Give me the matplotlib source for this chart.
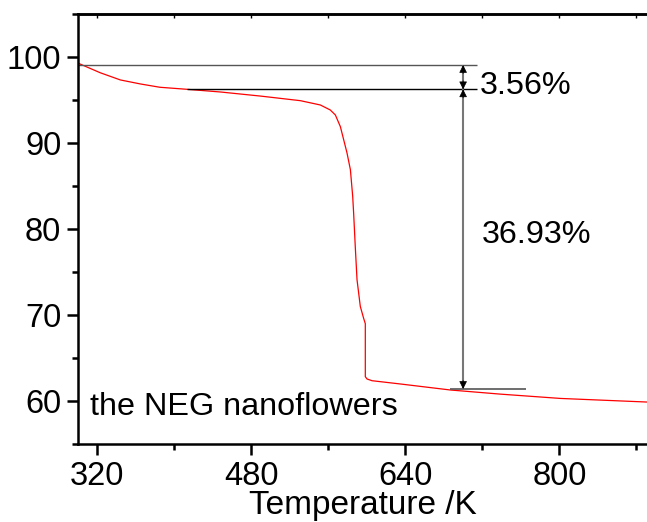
import numpy as np
import matplotlib
matplotlib.use("Agg")
import matplotlib.pyplot as plt
from matplotlib.ticker import MultipleLocator

plt.rcParams['font.family'] = ['Liberation Sans', 'DejaVu Sans']

# TGA curve
temp = [300.3, 323, 344, 365, 385, 413.5, 448, 490, 531, 551.7, 562, 567.3,
        572.5, 576, 579.4, 582.9, 585.3, 586.3, 588, 589.8, 593.2, 596.7,
        598.4, 598.4, 600.2, 605.4, 634.8, 686.8, 738.7, 801, 891]
mass = [99.27, 98.17, 97.33, 96.86, 96.48, 96.24, 95.93, 95.45, 94.92, 94.42,
        93.84, 93.26, 91.9, 90.35, 88.84, 86.9, 83.8, 81.8, 77.9, 74.1, 71.0,
        69.6, 69.0, 62.83, 62.56, 62.36, 61.98, 61.28, 60.8, 60.3, 59.88]

# annotation levels
top_level = 99.07
mid_level = 96.24
low_level = 61.4
arrow_x = 700
labels = ["3.56%", "36.93%"]
sample = "the NEG nanoflowers"

fig = plt.figure(figsize=(6.47, 5.22), dpi=100)
ax = fig.add_axes([0.1206, 0.1494, 0.8794, 0.8238])

ax.plot(temp, mass, color='red', lw=0.9)

# reference lines
ax.hlines(top_level, 300, 714, color='#555555', lw=1.0)
ax.hlines(mid_level, 413.5, 714, color='black', lw=1.0)
ax.hlines(low_level, 686, 765, color='#555555', lw=1.2)
ax.vlines(arrow_x, low_level, top_level, color='#777777', lw=1.5)

def head(y_tip, y_from):
    ax.annotate('', xy=(arrow_x, y_tip), xytext=(arrow_x, y_from),
                arrowprops=dict(arrowstyle='-|>', color='black', lw=0.5,
                                mutation_scale=12, shrinkA=0, shrinkB=0))

head(top_level, top_level - 1.0)
head(mid_level, mid_level + 1.0)
head(mid_level, mid_level - 1.0)
head(low_level, low_level + 1.0)

ax.text(717, 96.6, labels[0], fontsize=23.3, va='center', ha='left')
ax.text(719, 79.3, labels[1], fontsize=23.3, va='center', ha='left')
ax.text(312.5, 59.3, sample, fontsize=23.3, va='center', ha='left')

ax.set_xlim(300, 891)
ax.set_ylim(55, 105)
ax.xaxis.set_major_locator(MultipleLocator(160))
ax.xaxis.set_minor_locator(MultipleLocator(80))
ax.yaxis.set_major_locator(MultipleLocator(10))
ax.yaxis.set_minor_locator(MultipleLocator(5))
ax.set_yticks([60, 70, 80, 90, 100])

for s in ['left', 'bottom', 'top']:
    ax.spines[s].set_linewidth(1.8)
ax.spines['right'].set_visible(False)

ax.tick_params(axis='both', which='major', direction='out', length=8, width=1.8,
               labelsize=23.5, pad=4)
ax.tick_params(axis='both', which='minor', direction='out', length=4, width=1.8)

sec = ax.secondary_xaxis('top')
sec.xaxis.set_major_locator(MultipleLocator(80))
sec.tick_params(axis='x', which='major', direction='in', length=3, width=1.0,
                labeltop=False)
sec.spines['top'].set_linewidth(1.8)

ax.set_xlabel("Temperature /K", fontsize=24, labelpad=-1)

fig.savefig("out.png", dpi=100)
